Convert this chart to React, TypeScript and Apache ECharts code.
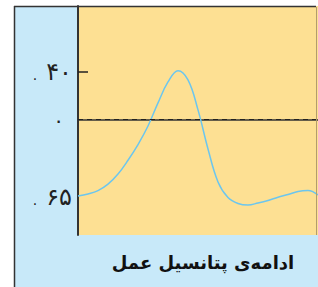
import React, { useEffect, useRef } from "react";
import * as echarts from "echarts";

const timeValues = [0, 1, 2, 3, 4, 5, 6, 7, 8, 9, 10, 11, 12, 13, 14, 15, 16, 17, 18, 19, 20, 21, 22, 23, 24];
const potentialValues = [-64.2, -62.5, -59.7, -54.3, -45.8, -34.2, -21.0, -5.4, 14.0, 31.6, 41.1, 33.3, 8.1, -24.7, -52.4, -65.5, -70.5, -71.8, -70.1, -68.0, -65.3, -63.0, -60.4, -59.6, -63.4];
const tickValues = [40, 0, -65];
const tickDigits: Record<string, string> = { "40": "۴۰", "0": "۰", "-65": "۶۵" };
const titleText = "ادامه‌ی پتانسیل عمل";

export default function App() {
  const ref = useRef<HTMLDivElement>(null);
  useEffect(() => {
    const chart = echarts.init(ref.current!, null, { renderer: "svg" });
    const data = timeValues.map((t, i) => [t, potentialValues[i]]);
    chart.setOption({
      animation: false,
      backgroundColor: "#ffffff",
      textStyle: { fontFamily: "DejaVu Sans" },
      graphic: [
        { type: "rect", z: -10, shape: { x: 14, y: 6, width: 304, height: 281 }, style: { fill: "#c8e9f9" } },
        { type: "line", z: 100, shape: { x1: 14.5, y1: 6, x2: 14.5, y2: 287 }, style: { stroke: "#333", lineWidth: 1.5 } },
        { type: "line", z: 100, shape: { x1: 14, y1: 6.5, x2: 316, y2: 6.5 }, style: { stroke: "#333", lineWidth: 1.5 } },
        { type: "line", z: 100, shape: { x1: 316.5, y1: 7, x2: 316.5, y2: 235 }, style: { stroke: "#b39d6c", lineWidth: 1 } },
      ],
      title: {
        text: titleText,
        left: 198,
        top: 248,
        textAlign: "center",
        textStyle: { fontFamily: "DejaVu Sans", fontWeight: "bold", fontSize: 18, color: "#111" },
      },
      grid: {
        left: 78, top: 6, width: 240, height: 229,
        show: true, backgroundColor: "#fde093", borderWidth: 0,
      },
      xAxis: {
        type: "value", min: 0, max: 24,
        axisLine: { show: true, lineStyle: { color: "#333", width: 1.5 } },
        axisTick: { show: false }, axisLabel: { show: false }, splitLine: { show: false },
      },
      yAxis: {
        type: "value", min: -97, max: 95.4,
        axisLine: { show: true, onZero: false, lineStyle: { color: "#333", width: 2 } },
        axisTick: { show: true, inside: true, length: 10, customValues: [40], lineStyle: { color: "#222", width: 1.5 } },
        axisLabel: {
          customValues: tickValues,
          margin: 6,
          color: "#222",
          fontSize: 24,
          fontFamily: "DejaVu Sans",
          formatter: (v: number) =>
            v === 0 ? "{z|" + tickDigits["0"] + "}" : "{d|.}{s| }{n|" + (tickDigits[String(v)] ?? "") + "}",
          rich: {
            z: { fontSize: 20, padding: [0, 8, 0, 0], color: "#222", fontFamily: "DejaVu Sans" },
            d: { fontSize: 14, color: "#222", fontFamily: "DejaVu Sans", padding: [6, 0, 0, 0] },
            s: { fontSize: 14, width: 9 },
            n: { fontSize: 24, color: "#222", fontFamily: "DejaVu Sans" },
          },
        },
        splitLine: { show: false },
      },
      series: [
        {
          type: "line",
          data,
          smooth: 0.4,
          showSymbol: false,
          lineStyle: { color: "#6cc6ee", width: 1.5 },
          markLine: {
            silent: true,
            symbol: ["none", "none"],
            label: { show: false },
            lineStyle: { color: "#222", type: [5, 4], width: 1.2 },
            data: [{ yAxis: 0 }],
          },
        },
      ],
    });
    return () => chart.dispose();
  }, []);
  return <div ref={ref} style={{ position: "absolute", left: 0, top: 0, width: 318, height: 287 }} />;
}
